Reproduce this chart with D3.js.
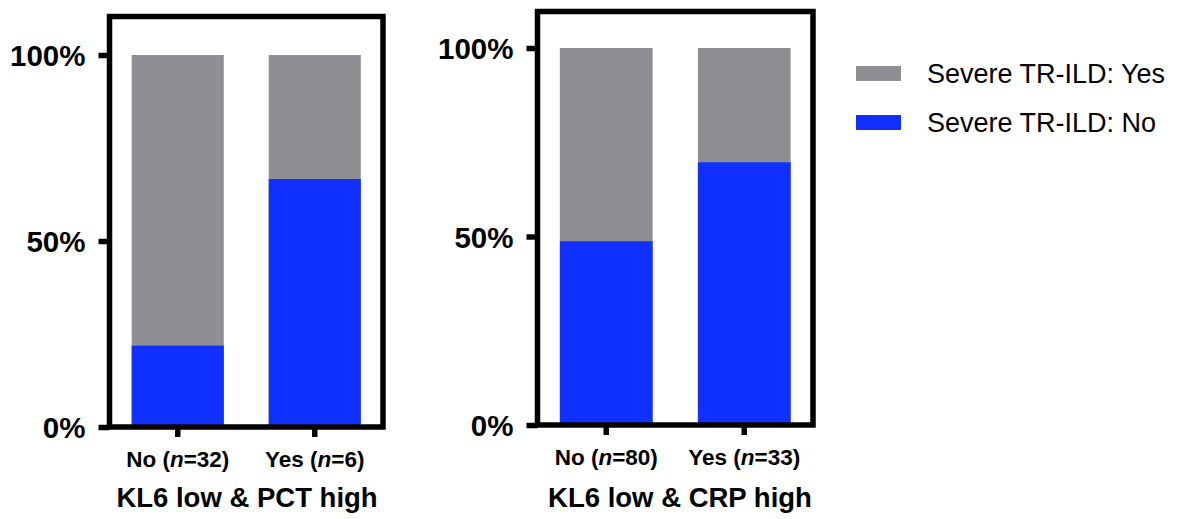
<!DOCTYPE html>
<html>
<head>
<meta charset="utf-8">
<script src="https://cdn.jsdelivr.net/npm/d3@7"></script>
<style>
  html, body { margin: 0; padding: 0; background: #fff; }
  svg { display: block; font-family: "Liberation Sans", Arial, Helvetica, sans-serif; }
</style>
</head>
<body>
<svg id="chart" width="1182" height="519"></svg>
<script>
// Group labels (left: KL6 low & PCT high, right: KL6 low & CRP high)
const pctGroups = ["No", "Yes"];
const pctN = [32, 6];
const pctSevereNo = [7 / 32, 4 / 6];     // share with Severe TR-ILD: No

const crpGroups = ["No", "Yes"];
const crpN = [80, 33];
const crpSevereNo = [39 / 80, 23 / 33];

const panelTitles = ["KL6 low & PCT high", "KL6 low & CRP high"];
const yTicks = [0, 0.5, 1];
const legendLabels = ["Severe TR-ILD: Yes", "Severe TR-ILD: No"];

const GRAY = "#8f8e93";
const BLUE = "#1030ff";
const LINE = 5.5;

const svg = d3.select("#chart");

const panels = [
  { groups: pctGroups, n: pctN, no: pctSevereNo, title: panelTitles[0],
    x0: 109.5, x1: 383, yTop: 16.5, y0: 427, y100: 55, titleX: 247 },
  { groups: crpGroups, n: crpN, no: crpSevereNo, title: panelTitles[1],
    x0: 537.5, x1: 813, yTop: 11.5, y0: 425, y100: 48, titleX: 680 }
];

panels.forEach(p => {
  const g = svg.append("g");
  const x = d3.scaleBand().domain(p.groups).range([p.x0, p.x1])
    .paddingInner(0.328).paddingOuter(0.162);
  const y = d3.scaleLinear().domain([0, 1]).range([p.y0, p.y100]);

  const rows = p.groups.map((c, i) => ({ c, n: p.n[i], no: p.no[i] }));

  // grey = whole bar (Yes on top), blue = Severe TR-ILD: No portion
  g.selectAll("rect.total").data(rows).join("rect")
    .attr("x", d => x(d.c)).attr("width", x.bandwidth())
    .attr("y", y(1)).attr("height", y(0) - y(1))
    .attr("fill", GRAY);
  g.selectAll("rect.no").data(rows).join("rect")
    .attr("x", d => x(d.c)).attr("width", x.bandwidth())
    .attr("y", d => y(d.no)).attr("height", d => y(0) - y(d.no))
    .attr("fill", BLUE);

  // y axis
  const ya = g.append("g").attr("transform", `translate(${p.x0},0)`)
    .call(d3.axisLeft(y).tickValues(yTicks).tickFormat(d3.format(".0%"))
      .tickSize(11).tickPadding(13).tickSizeOuter(0));
  ya.select(".domain").remove();
  ya.selectAll(".tick line").attr("stroke", "#000").attr("stroke-width", LINE);
  ya.selectAll(".tick text").attr("fill", "#000").style("font-size", "29.5px")
    .style("font-weight", "bold").attr("dy", "0.36em");

  // x axis
  const xa = g.append("g").attr("transform", `translate(0,${p.y0})`)
    .call(d3.axisBottom(x).tickSize(10).tickSizeOuter(0).tickFormat(() => ""));
  xa.select(".domain").remove();
  xa.selectAll(".tick line").attr("stroke", "#000").attr("stroke-width", LINE);

  // category labels with italic n
  const lab = g.selectAll("text.cat").data(rows).join("text")
    .attr("x", d => x(d.c) + x.bandwidth() / 2)
    .attr("y", p.y0 + 40)
    .attr("text-anchor", "middle")
    .style("font-size", "22.5px").style("font-weight", "bold");
  lab.append("tspan").text(d => d.c + " (");
  lab.append("tspan").style("font-style", "italic").text("n");
  lab.append("tspan").text(d => "=" + d.n + ")");

  // frame
  g.append("rect")
    .attr("x", p.x0).attr("y", p.yTop)
    .attr("width", p.x1 - p.x0).attr("height", p.y0 - p.yTop)
    .attr("fill", "none").attr("stroke", "#000").attr("stroke-width", LINE);

  // panel title
  g.append("text").attr("x", p.titleX).attr("y", 507)
    .attr("text-anchor", "middle")
    .style("font-size", "27.5px").style("font-weight", "bold")
    .text(p.title);
});

// legend
const legend = svg.append("g").attr("transform", "translate(856,66)");
[GRAY, BLUE].forEach((col, i) => {
  legend.append("rect").attr("x", 0).attr("y", i * 49)
    .attr("width", 45).attr("height", 15).attr("fill", col);
  legend.append("text").attr("x", 71).attr("y", i * 49 + 17)
    .style("font-size", "27px").attr("fill", "#000")
    .text(legendLabels[i]);
});
</script>
</body>
</html>
